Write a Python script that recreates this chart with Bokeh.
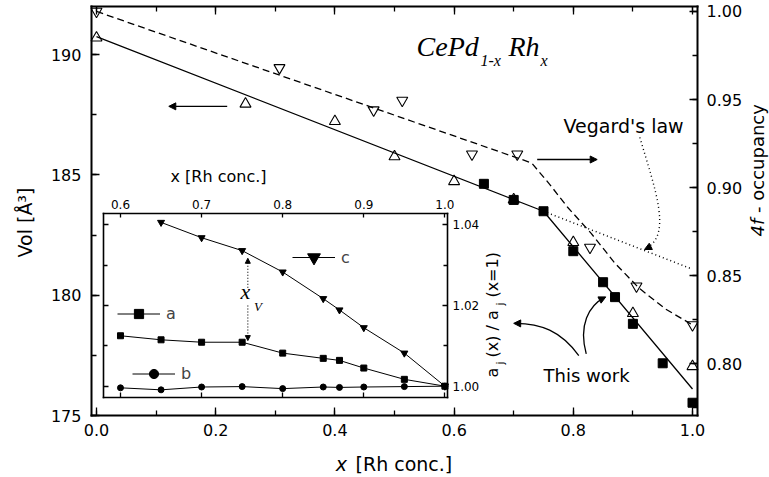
import math

from bokeh.embed import file_html
from bokeh.models import (Arrow, FixedTicker, Label, Legend, LegendItem, LinearAxis,
                          NormalHead, PrintfTickFormatter, Range1d, SingleIntervalTicker)
from bokeh.plotting import figure
from bokeh.resources import INLINE

# ---------------- data ----------------
# unit-cell volume from earlier studies (left axis, open up-triangles)
x_vol_ref = [0.0, 0.25, 0.40, 0.50, 0.60, 0.70, 0.80, 0.90, 1.0]
vol_ref = [190.70, 187.95, 187.23, 185.76, 184.73, 183.97, 182.20, 179.25, 177.04]

# unit-cell volume, this work (left axis, filled squares)
x_vol_new = [0.65, 0.70, 0.75, 0.80, 0.85, 0.87, 0.90, 0.95, 1.0]
vol_new = [184.63, 183.96, 183.49, 181.83, 180.54, 179.92, 178.81, 177.17, 175.53]

# 4f occupancy (right axis, open down-triangles)
x_occ = [0.0, 0.307, 0.465, 0.513, 0.630, 0.706, 0.828, 0.906, 1.0]
occ = [1.000, 0.968, 0.944, 0.9495, 0.919, 0.919, 0.866, 0.844, 0.822]

# guide lines: volume trend, Vegard's-law extrapolation, occupancy trend
x_vol_line = [0.0, 0.75, 1.0]
vol_line = [190.75, 183.49, 176.10]
x_vegard = [0.75, 1.0]
vol_vegard = [183.49, 181.08]
x_occ_line = [0.0, 0.73, 0.76, 0.79, 0.83, 0.87, 0.91, 0.955, 1.0]
occ_line = [1.000, 0.914, 0.902, 0.889, 0.874, 0.857, 0.843, 0.831, 0.822]

# inset: lattice parameters normalised to x = 1
x_lat = [0.60, 0.65, 0.70, 0.75, 0.80, 0.85, 0.87, 0.90, 0.95, 1.0]
lat_a = [1.0125, 1.0115, 1.0109, 1.0109, 1.0082, 1.0069, 1.0064, 1.0045, 1.0017, 1.0]
lat_b = [0.9996, 0.9991, 0.9998, 0.9999, 0.9994, 0.9998, 0.9997, 0.9998, 0.9999, 1.0]
x_lat_c = [0.65, 0.70, 0.75, 0.80, 0.85, 0.87, 0.90, 0.95, 1.0]
lat_c = [1.0406, 1.0368, 1.0336, 1.0283, 1.0217, 1.0189, 1.0145, 1.0082, 1.0]

inset_x_ticks = [0.6, 0.7, 0.8, 0.9, 1.0]
inset_y_ticks = [1.00, 1.02, 1.04]
inset_y_minor = [1.01, 1.03]

SANS = "DejaVu Sans"
SERIF = "Liberation Serif"

# ---------------- figure ----------------
# The plotting frame fills the whole canvas; the visible axes are pinned at fixed
# data locations so that axis titles and other text can sit anywhere on the page.
x_lo, x_hi = -0.0084, 1.0084        # extent of the main box (Rh concentration)
v_lo, v_hi = 175.0, 192.0           # extent of the main box (volume)
o_lo, o_hi = 0.7706, 1.0028         # extent of the main box (4f occupancy)

p = figure(width=769, height=477, output_backend="svg", toolbar_location=None,
           x_range=Range1d(-0.16107, 1.12919), y_range=Range1d(172.423, 192.2495),
           x_axis_location=None, y_axis_location=None,
           min_border=0, min_border_left=0, min_border_right=0,
           min_border_top=0, min_border_bottom=0,
           background_fill_color="white", border_fill_color="white")
p.extra_y_ranges = {"occ": Range1d(0.735401, 1.006206), "iy": Range1d(0.977373, 1.095589)}
p.extra_x_ranges = {"ix": Range1d(0.452035, 1.400247)}
p.grid.visible = False
p.outline_line_color = None


def style_axis(ax, tick_in, minor_in, font_px, standoff, width, labels=True):
    ax.axis_line_width = width
    ax.axis_line_color = "black"
    ax.axis_line_cap = "square"
    ax.major_tick_in = tick_in
    ax.major_tick_out = 0
    ax.minor_tick_in = minor_in
    ax.minor_tick_out = 0
    ax.major_tick_line_width = 1.3
    ax.minor_tick_line_width = 1.3
    ax.major_label_text_font = SANS
    ax.major_label_text_font_size = f"{font_px}px"
    ax.major_label_text_color = "black" if labels else None
    ax.major_label_standoff = standoff


# main box
xax = LinearAxis(fixed_location=v_lo, bounds=(x_lo, x_hi),
                 ticker=SingleIntervalTicker(interval=0.2, num_minor_ticks=2),
                 formatter=PrintfTickFormatter(format="%.1f"))
style_axis(xax, 8, 5, 16, 8, 2)
p.add_layout(xax, "below")

tax = LinearAxis(fixed_location=v_hi, bounds=(x_lo, x_hi),
                 ticker=SingleIntervalTicker(interval=0.2, num_minor_ticks=2))
style_axis(tax, 8, 5, 16, 0, 2, labels=False)
p.add_layout(tax, "above")

yax = LinearAxis(fixed_location=x_lo, bounds=(v_lo, v_hi),
                 ticker=SingleIntervalTicker(interval=5, num_minor_ticks=2),
                 formatter=PrintfTickFormatter(format="%d"))
style_axis(yax, 8, 5, 16, 10, 2)
p.add_layout(yax, "left")

rax = LinearAxis(y_range_name="occ", fixed_location=x_hi, bounds=(o_lo, o_hi),
                 ticker=SingleIntervalTicker(interval=0.05, num_minor_ticks=2),
                 formatter=PrintfTickFormatter(format="%.2f"))
style_axis(rax, 8, 5, 16, 9, 2)
p.add_layout(rax, "right")

# inset box
ix_lo, ix_hi = 0.57904, 1.00321
iy_lo, iy_hi = 0.99713, 1.04288
x_tk = FixedTicker(ticks=inset_x_ticks, minor_ticks=[])
y_tk = FixedTicker(ticks=inset_y_ticks, minor_ticks=inset_y_minor)

i_top = LinearAxis(x_range_name="ix", y_range_name="iy", fixed_location=iy_hi, bounds=(ix_lo, ix_hi),
                   ticker=x_tk, formatter=PrintfTickFormatter(format="%.1f"))
style_axis(i_top, 4, 0, 12, 4, 1.6)
p.add_layout(i_top, "above")

i_bot = LinearAxis(x_range_name="ix", y_range_name="iy", fixed_location=iy_lo, bounds=(ix_lo, ix_hi),
                   ticker=x_tk)
style_axis(i_bot, 5, 0, 12, 0, 1.6, labels=False)
p.add_layout(i_bot, "below")

i_left = LinearAxis(x_range_name="ix", y_range_name="iy", fixed_location=ix_lo, bounds=(iy_lo, iy_hi),
                    ticker=y_tk)
style_axis(i_left, 5, 4, 12, 0, 1.6, labels=False)
p.add_layout(i_left, "left")

i_right = LinearAxis(x_range_name="ix", y_range_name="iy", fixed_location=ix_hi, bounds=(iy_lo, iy_hi),
                     ticker=y_tk, formatter=PrintfTickFormatter(format="%.2f"))
style_axis(i_right, 5, 4, 12, 5, 1.6)
p.add_layout(i_right, "right")

# ---------------- main curves and points ----------------
p.line(x_vol_line, vol_line, line_color="black", line_width=1.3)
p.line(x_vegard, vol_vegard, line_color="black", line_width=1.5, line_dash="1 3")
p.line(x_occ_line, occ_line, y_range_name="occ", line_color="black", line_width=1.3, line_dash="7 4")

p.scatter(x_vol_new, vol_new, marker="square", size=9, fill_color="black", line_color="black")
p.scatter(x_vol_ref, vol_ref, marker="triangle", size=11, fill_color=None,
          line_color="black", line_width=1.1)
p.scatter(x_occ, occ, y_range_name="occ", marker="inverted_triangle", size=11, fill_color=None,
          line_color="black", line_width=1.1)

# ---------------- inset curves ----------------
ins = dict(x_range_name="ix", y_range_name="iy")
la = p.line(x_lat, lat_a, line_color="black", line_width=1, **ins)
ma = p.scatter(x_lat, lat_a, marker="square", size=6, color="black", **ins)
lb = p.line(x_lat, lat_b, line_color="black", line_width=1, **ins)
mb = p.scatter(x_lat, lat_b, marker="circle", size=6, color="black", **ins)
lc = p.line(x_lat_c, lat_c, line_color="black", line_width=1, **ins)
mc = p.scatter(x_lat_c, lat_c, marker="inverted_triangle", size=7, color="black", **ins)


def inset_legend(label, line_r, mark_r, loc, gh):
    p.add_layout(Legend(items=[LegendItem(label=label, renderers=[line_r, mark_r])],
                        location=loc, glyph_width=43, glyph_height=gh, label_height=gh,
                        label_standoff=6, padding=0, margin=0, spacing=0,
                        border_line_color=None, background_fill_alpha=0,
                        label_text_font=SANS, label_text_font_size="16px"))


inset_legend("a", la, ma, (117, 152), 23)
inset_legend("b", lb, mb, (132, 92), 23)
inset_legend("c", lc, mc, (292, 204), 32)


# ---------------- text ----------------
def label(text, x, y, size, font=SANS, style="normal", angle=0.0, align="left",
          baseline="middle", xr="default", yr="default"):
    p.add_layout(Label(x=x, y=y, text=text, text_font=font, text_font_size=f"{size}px",
                       text_font_style=style, text_color="black", angle=angle,
                       text_align=align, text_baseline=baseline,
                       x_range_name=xr, y_range_name=yr))


up = math.pi / 2
# axis titles
label("x", 0.4013, 172.98, 19, style="italic")
label("[Rh conc.]", 0.4346, 172.98, 19)
label("Vol [Å³]", -0.1208, 183.02, 19, angle=up, align="center")
label("4f", 1.1091, 182.44, 18, style="italic", angle=up)
label("- occupancy", 1.1091, 183.42, 18, angle=up)

# compound formula
label("CePd", 0.537, 190.35, 28, font=SERIF, style="italic")
label("1-x", 0.6443, 189.76, 16, font=SERIF, style="italic")
label("Rh", 0.6913, 190.35, 28, font=SERIF, style="italic")
label("x", 0.745, 189.76, 16, font=SERIF, style="italic")

label("Vegard's law", 0.7836, 187.03, 19)
label("This work", 0.75, 176.66, 18)

# inset titles
label("x [Rh conc.]", 0.1242, 184.93, 16)
label("a", 0.6644, 176.58, 16, angle=up)
label("j", 0.6779, 177.12, 11, angle=up)
label("(x) / a", 0.6644, 177.41, 16, angle=up)
label("j", 0.6779, 179.57, 11, angle=up)
label("(x=1)", 0.6644, 179.90, 16, angle=up)
label("x", 0.748, 1.0234, 22, font=SERIF, style="italic", xr="ix", yr="iy")
label("V", 0.7645, 1.01975, 13, font=SERIF, style="italic", xr="ix", yr="iy")


# ---------------- arrows ----------------
def arrow(x0, y0, x1, y1, size=7, dash="solid", body=True, width=1.4, xr="default", yr="default"):
    head = NormalHead(size=size, fill_color="black", line_color="black", line_width=1)
    p.add_layout(Arrow(end=head, x_start=x0, y_start=y0, x_end=x1, y_end=y1,
                       line_color="black" if body else None, line_width=width,
                       line_dash=dash, x_range_name=xr, y_range_name=yr))


# which data belong to which axis
arrow(0.2193, 187.85, 0.1213, 187.85)
arrow(0.7394, 185.64, 0.8401, 185.64)

# "This work" pointers
p.bezier(x0=[0.8092, 0.8217], y0=[177.49, 177.56], x1=[0.703, 0.8529], y1=[178.83, 179.91],
         cx0=[0.7785, 0.8087], cy0=[178.53, 178.74], cx1=[0.745, 0.8255], cy1=[178.82, 179.57],
         line_color="black", line_width=1.3)
arrow(0.745, 178.82, 0.700, 178.83, body=False)
arrow(0.8255, 179.57, 0.8545, 179.93, body=False)

# Vegard's law pointer
p.bezier(x0=[0.9116], y0=[186.56], x1=[0.9211], y1=[181.94], cx0=[0.9379], cy0=[184.35],
         cx1=[0.9664], cy1=[182.48], line_color="black", line_width=1.4, line_dash="1 3")
arrow(0.9664, 182.48, 0.9195, 181.90, body=False, size=7)

# x_V marker in the inset
arrow(0.757, 1.0244, 0.757, 1.0317, size=5, dash="1 2", width=1.1, xr="ix", yr="iy")
arrow(0.757, 1.0200, 0.757, 1.0113, size=5, dash="1 2", width=1.1, xr="ix", yr="iy")

open("out.html", "w").write(file_html(p, INLINE))
